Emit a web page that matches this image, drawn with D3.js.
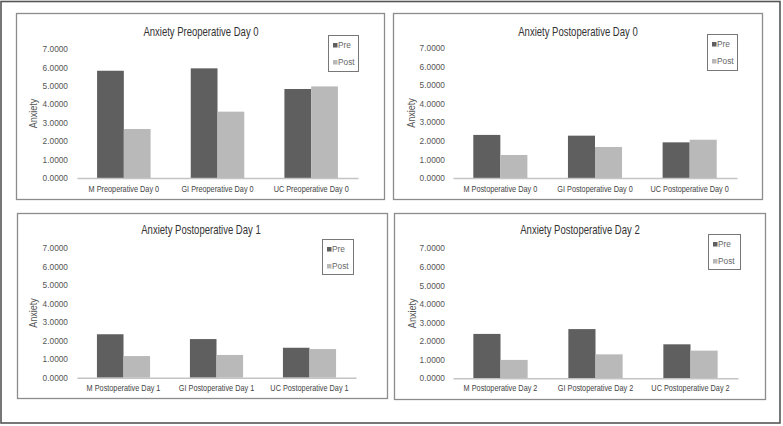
<!DOCTYPE html>
<html>
<head>
<meta charset="utf-8">
<script src="https://cdn.jsdelivr.net/npm/d3@7/dist/d3.min.js"></script>
<style>
  html, body { margin: 0; padding: 0; background: #fff; }
  svg { display: block; }
</style>
</head>
<body>
<script>
// ---------- data ----------
const seriesNames = ["Pre", "Post"];
const yTicks = [0, 1, 2, 3, 4, 5, 6, 7];
const yAxisLabel = "Anxiety";

const titleP0 = "Anxiety Preoperative Day 0";
const catsP0 = ["M Preoperative Day 0", "GI Preoperative Day 0", "UC Preoperative Day 0"];
const preP0 = [5.82, 5.95, 4.83];
const postP0 = [2.66, 3.60, 4.97];

const titleD0 = "Anxiety Postoperative Day 0";
const catsD0 = ["M Postoperative Day 0", "GI Postoperative Day 0", "UC Postoperative Day 0"];
const preD0 = [2.32, 2.28, 1.92];
const postD0 = [1.24, 1.67, 2.06];

const titleD1 = "Anxiety Postoperative Day 1";
const catsD1 = ["M Postoperative Day 1", "GI Postoperative Day 1", "UC Postoperative Day 1"];
const preD1 = [2.35, 2.09, 1.62];
const postD1 = [1.17, 1.23, 1.55];

const titleD2 = "Anxiety Postoperative Day 2";
const catsD2 = ["M Postoperative Day 2", "GI Postoperative Day 2", "UC Postoperative Day 2"];
const preD2 = [2.39, 2.65, 1.83];
const postD2 = [0.99, 1.29, 1.49];

// ---------- layout ----------
const W = 783, H = 426;
const colors = ["#5f5f5f", "#b9b9b9"];
const regular = "'Liberation Sans', Arial, sans-serif";

// emulate a narrow (Arial Narrow-like) face by compressing glyphs horizontally
function condense(sel, k) {
  sel.each(function () {
    const L = this.getComputedTextLength();
    d3.select(this).attr("textLength", L * k).attr("lengthAdjust", "spacingAndGlyphs");
  });
}

const panels = [
  { title: titleP0, cats: catsP0, vals: [preP0, postP0],
    frame: [16, 13, 384, 199], px: [77, 358], py: [178, 49], tickX: 68, ylabX: 33, titleX: 201, titleY: 32, xlabY: 189,
    legend: [328, 35, 30, 36] },
  { title: titleD0, cats: catsD0, vals: [preD0, postD0],
    frame: [393, 13, 762, 199], px: [453, 737], py: [178, 48], tickX: 445, ylabX: 411, titleX: 578, titleY: 32, xlabY: 189,
    legend: [707, 34, 30, 36] },
  { title: titleD1, cats: catsD1, vals: [preD1, postD1],
    frame: [17, 213, 387, 398], px: [77, 356], py: [377.7, 248.3], tickX: 68, ylabX: 33, titleX: 201, titleY: 230, xlabY: 388,
    legend: [322, 239, 31, 35] },
  { title: titleD2, cats: catsD2, vals: [preD2, postD2],
    frame: [394, 213, 765, 399], px: [453, 738], py: [378.3, 248.3], tickX: 445, ylabX: 412, titleX: 580, titleY: 230, xlabY: 388,
    legend: [708, 234, 32, 35] }
];

const svg = d3.select("body").append("svg").attr("width", W).attr("height", H);
svg.append("rect").attr("x", 0).attr("y", 0).attr("width", W).attr("height", H).attr("fill", "#fff");

// outer border
svg.append("rect").attr("x", 1).attr("y", 1.5).attr("width", 779).attr("height", 421.5)
  .attr("fill", "none").attr("stroke", "#555").attr("stroke-width", 1.6);

panels.forEach(p => {
  const g = svg.append("g");
  const [fx0, fy0, fx1, fy1] = p.frame;
  g.append("rect").attr("x", fx0 + 0.5).attr("y", fy0 + 0.5).attr("width", fx1 - fx0).attr("height", fy1 - fy0)
    .attr("fill", "#fff").attr("stroke", "#8c8c8c").attr("stroke-width", 1.3);

  const x = d3.scaleBand().domain(p.cats).range(p.px).paddingInner(0).paddingOuter(0);
  const xs = d3.scaleBand().domain(seriesNames).range([0, x.bandwidth()]).paddingInner(0).paddingOuter(0.75);
  const y = d3.scaleLinear().domain([0, 7]).range(p.py);

  // bars
  seriesNames.forEach((s, si) => {
    g.selectAll(null).data(p.cats).enter().append("rect")
      .attr("x", c => x(c) + xs(s))
      .attr("y", (c, i) => y(p.vals[si][i]))
      .attr("width", xs.bandwidth())
      .attr("height", (c, i) => y(0) - y(p.vals[si][i]))
      .attr("fill", colors[si]);
  });

  // x axis
  const xa = g.append("g").attr("transform", `translate(0,${y(0)})`)
    .call(d3.axisBottom(x).tickSize(0).tickPadding(0));
  xa.select(".domain").attr("stroke", "#c4c4c4").attr("stroke-width", 1.5);
  xa.selectAll("text").attr("y", p.xlabY - y(0)).attr("dy", "0.35em")
    .attr("font-family", regular).attr("font-size", 9.8).attr("fill", "#444");
  condense(xa.selectAll("text"), 0.745);

  // y axis
  const ya = g.append("g").attr("transform", `translate(${p.tickX},0)`)
    .call(d3.axisLeft(y).tickValues(yTicks).tickFormat(d3.format(".4f")).tickSize(0).tickPadding(0));
  ya.select(".domain").remove();
  ya.selectAll("text").attr("font-family", regular).attr("font-size", 8.3).attr("fill", "#555");

  // y label
  const yl = g.append("text").attr("transform", `translate(${p.ylabX},${(p.py[0] + p.py[1]) / 2}) rotate(-90)`)
    .attr("text-anchor", "middle").attr("dy", "0.35em")
    .attr("font-family", regular).attr("font-size", 10.8).attr("fill", "#555").text(yAxisLabel);
  condense(yl, 0.84);

  // title
  const t = g.append("text").attr("x", p.titleX).attr("y", p.titleY).attr("dy", "0.35em").attr("text-anchor", "middle")
    .attr("font-family", regular).attr("font-size", 12.2).attr("fill", "#333").text(p.title);
  condense(t, 0.78);

  // legend
  const [lx, ly, lw, lh] = p.legend;
  g.append("rect").attr("x", lx + 0.5).attr("y", ly + 0.5).attr("width", lw).attr("height", lh)
    .attr("fill", "#fff").attr("stroke", "#777").attr("stroke-width", 1);
  seriesNames.forEach((s, si) => {
    const cy = ly + 10.5 + si * 17;
    g.append("rect").attr("x", lx + 5).attr("y", cy - 2.5).attr("width", 4.5).attr("height", 4.5).attr("fill", colors[si]);
    g.append("text").attr("x", lx + 10).attr("y", cy).attr("dy", "0.35em")
      .attr("font-family", regular).attr("font-size", 8.3).attr("fill", "#666").text(s);
  });
});
</script>
</body>
</html>
